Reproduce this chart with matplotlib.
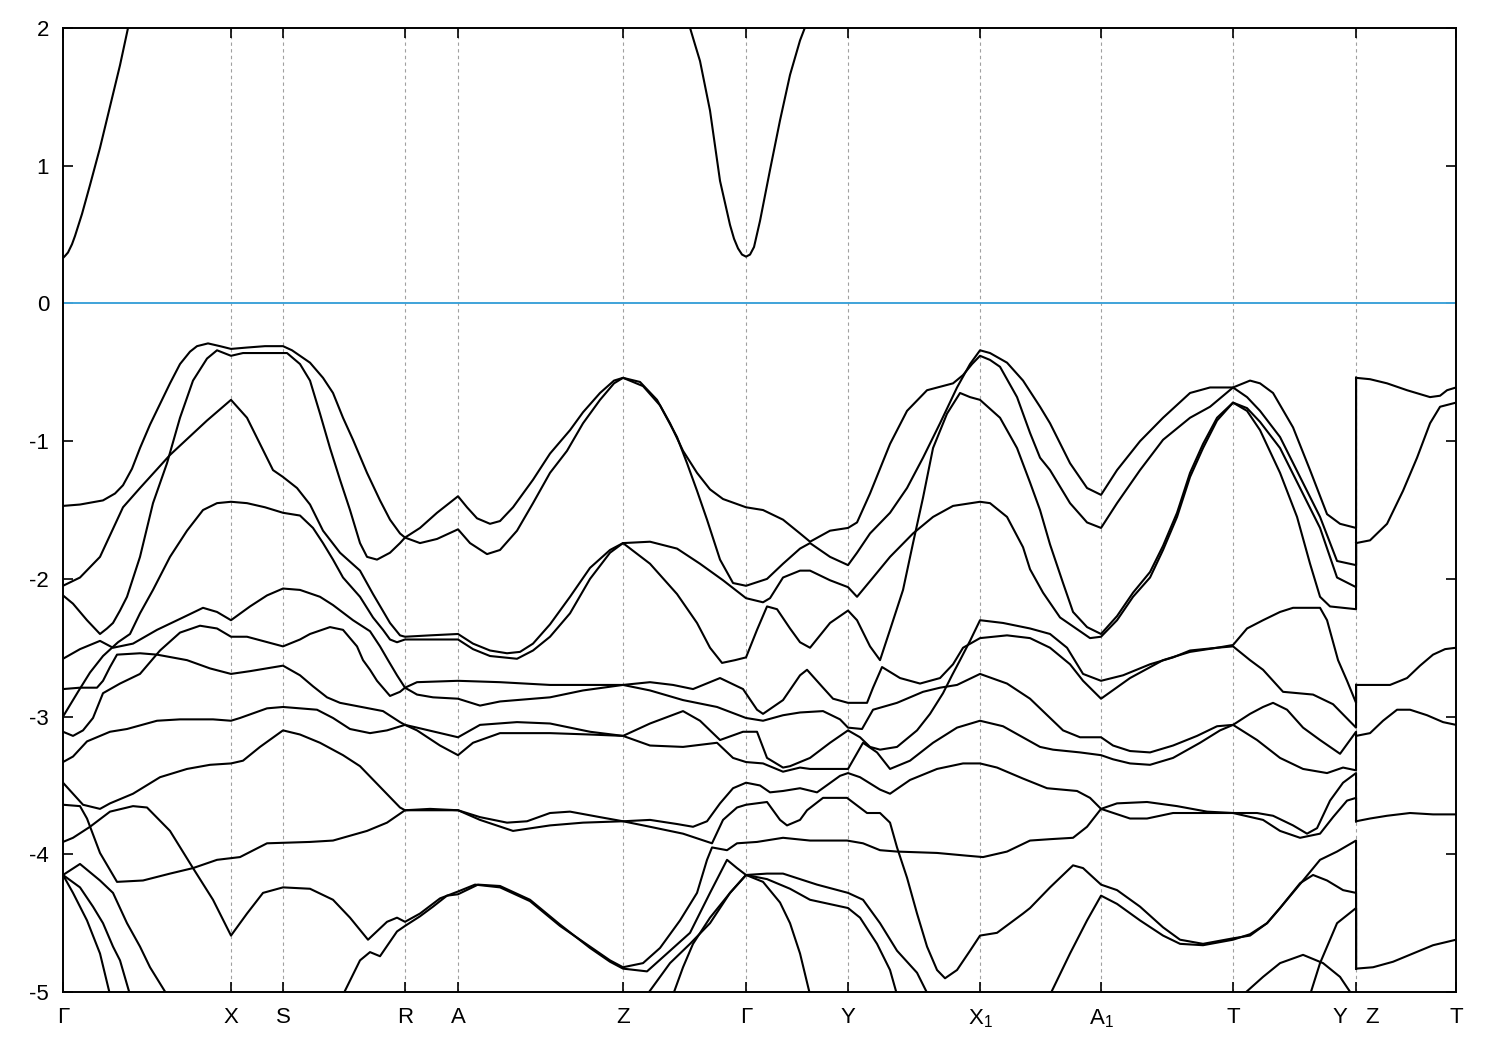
import matplotlib
matplotlib.use("Agg")
import matplotlib.pyplot as plt

plt.rcParams['font.family'] = ['Liberation Sans', 'DejaVu Sans']
plt.rcParams['mathtext.default'] = 'regular'
plt.rcParams['axes.unicode_minus'] = False

# ---- high-symmetry path ----
kpt_pos = [0.0, 1.68, 2.20, 3.42, 3.95, 5.60, 6.83, 7.85, 9.17, 10.38, 11.70, 12.93, 13.93]
kpt_lab = ["Γ", "X", "S", "R", "A", "Z", "Γ", "Y", "X$_1$", "A$_1$", "T", "Y   Z", "T"]

# ---- conduction bands ----
cb1_k = [0, 0.02, 0.05, 0.09, 0.12, 0.19, 0.27, 0.37, 0.47, 0.57, 0.65, 0.69]
cb1_e = [0.33, 0.345, 0.37, 0.43, 0.49, 0.65, 0.86, 1.13, 1.43, 1.73, 2.0, 2.12]
cb2_k = [6.25, 6.32, 6.37, 6.47, 6.57, 6.67, 6.71, 6.75, 6.79, 6.83, 6.87, 6.91, 6.97, 7.07, 7.17, 7.27, 7.37, 7.47]
cb2_e = [2.05, 1.88, 1.76, 1.40, 0.89, 0.57, 0.47, 0.40, 0.355, 0.34, 0.355, 0.41, 0.60, 0.97, 1.33, 1.66, 1.91, 2.1]

# ---- valence bands ----
va_k = [0, 0.17, 0.40, 0.52, 0.60, 0.69, 0.77, 0.87, 0.97, 1.07, 1.17, 1.27, 1.34, 1.45, 1.57, 1.68, 1.84, 2.02, 2.20,
        2.29, 2.37, 2.47, 2.60, 2.70, 2.80, 2.90, 3.04, 3.17, 3.27, 3.37, 3.42, 3.57, 3.74, 3.95, 4.07, 4.24, 4.37, 4.54,
        4.70, 4.87, 5.04, 5.20, 5.37, 5.51, 5.60, 5.77, 5.94, 6.07, 6.20, 6.34, 6.47, 6.60, 6.83, 7.00, 7.20, 7.37, 7.47,
        7.67, 7.85, 7.94, 8.07, 8.27, 8.44, 8.64, 8.90, 9.00, 9.09, 9.17, 9.27, 9.37, 9.54, 9.67, 9.77, 9.87, 10.07,
        10.24, 10.38, 10.54, 10.77, 11.00, 11.27, 11.47, 11.70, 11.84, 11.97, 12.17, 12.37, 12.57, 12.74, 12.93, 12.93]
va_e = [-1.47, -1.46, -1.43, -1.38, -1.32, -1.20, -1.05, -0.88, -0.73, -0.58, -0.44, -0.35, -0.31, -0.29, -0.31, -0.33,
        -0.32, -0.31, -0.31, -0.34, -0.38, -0.43, -0.54, -0.65, -0.83, -0.99, -1.23, -1.43, -1.57, -1.67, -1.70, -1.74,
        -1.71, -1.64, -1.74, -1.82, -1.79, -1.65, -1.45, -1.23, -1.07, -0.87, -0.70, -0.58, -0.54, -0.57, -0.70, -0.87,
        -1.07, -1.23, -1.35, -1.42, -1.48, -1.50, -1.57, -1.67, -1.73, -1.65, -1.63, -1.59, -1.38, -1.02, -0.78, -0.63,
        -0.58, -0.52, -0.44, -0.38, -0.41, -0.46, -0.68, -0.94, -1.12, -1.21, -1.45, -1.59, -1.63, -1.45, -1.21, -0.99,
        -0.83, -0.75, -0.61, -0.68, -0.78, -0.97, -1.26, -1.55, -1.87, -1.90, -0.54]

vb_k = [0, 0.10, 0.24, 0.37, 0.44, 0.50, 0.57, 0.64, 0.77, 0.90, 1.04, 1.17, 1.30, 1.44, 1.54, 1.61, 1.68, 1.80, 2.02,
        2.24, 2.37, 2.47, 2.57, 2.67, 2.77, 2.87, 2.97, 3.04, 3.14, 3.27, 3.37, 3.42, 3.57, 3.74, 3.95, 4.04, 4.14, 4.27,
        4.37, 4.50, 4.70, 4.87, 5.07, 5.20, 5.37, 5.51, 5.60, 5.80, 5.97, 6.14, 6.24, 6.34, 6.44, 6.57, 6.70, 6.83, 7.04,
        7.20, 7.37, 7.47, 7.67, 7.85, 7.94, 8.07, 8.27, 8.44, 8.60, 8.77, 8.94, 9.07, 9.17, 9.27, 9.44, 9.60, 9.77, 9.87,
        10.07, 10.24, 10.38, 10.54, 10.77, 11.00, 11.27, 11.47, 11.70, 11.87, 11.97, 12.10, 12.30, 12.47, 12.64, 12.77,
        12.93, 12.93]
vb_e = [-2.12, -2.18, -2.30, -2.40, -2.36, -2.32, -2.23, -2.13, -1.84, -1.45, -1.16, -0.83, -0.56, -0.40, -0.34, -0.36,
        -0.38, -0.36, -0.36, -0.36, -0.44, -0.56, -0.80, -1.05, -1.28, -1.50, -1.74, -1.84, -1.86, -1.81, -1.74, -1.70,
        -1.63, -1.52, -1.40, -1.48, -1.56, -1.60, -1.58, -1.48, -1.28, -1.09, -0.92, -0.79, -0.65, -0.56, -0.54, -0.60,
        -0.74, -0.97, -1.16, -1.36, -1.57, -1.86, -2.03, -2.05, -2.00, -1.89, -1.78, -1.74, -1.84, -1.90, -1.81, -1.67,
        -1.52, -1.34, -1.12, -0.87, -0.61, -0.44, -0.34, -0.36, -0.43, -0.56, -0.75, -0.87, -1.16, -1.34, -1.39, -1.21,
        -1.00, -0.83, -0.65, -0.61, -0.61, -0.56, -0.58, -0.65, -0.90, -1.21, -1.53, -1.60, -1.63, -0.54]

vd_k = [0, 0.17, 0.37, 0.60, 0.77, 1.07, 1.44, 1.68, 1.84, 1.97, 2.10, 2.20, 2.34, 2.47, 2.60, 2.77, 2.97, 3.10, 3.27,
        3.37, 3.42, 3.67, 3.95, 4.10, 4.27, 4.44, 4.57, 4.70, 4.87, 5.07, 5.27, 5.47, 5.60, 5.87, 6.14, 6.37, 6.60, 6.83,
        7.00, 7.07, 7.20, 7.37, 7.47, 7.67, 7.85, 7.94, 8.10, 8.27, 8.50, 8.70, 8.90, 9.17, 9.27, 9.44, 9.60, 9.67, 9.80,
        9.97, 10.17, 10.27, 10.38, 10.54, 10.70, 10.87, 11.00, 11.14, 11.27, 11.40, 11.54, 11.70, 11.84, 11.97, 12.17,
        12.37, 12.57, 12.74, 12.93, 12.93]
vd_e = [-2.05, -1.99, -1.84, -1.48, -1.34, -1.10, -0.85, -0.70, -0.83, -1.02, -1.21, -1.26, -1.34, -1.46, -1.65, -1.81,
        -1.94, -2.11, -2.32, -2.41, -2.42, -2.41, -2.40, -2.47, -2.52, -2.54, -2.53, -2.47, -2.33, -2.13, -1.92, -1.79,
        -1.74, -1.73, -1.78, -1.89, -2.01, -2.14, -2.17, -2.14, -1.99, -1.94, -1.94, -2.01, -2.06, -2.13, -1.99, -1.84,
        -1.67, -1.55, -1.47, -1.44, -1.45, -1.55, -1.77, -1.93, -2.10, -2.28, -2.38, -2.43, -2.42, -2.30, -2.13, -1.99,
        -1.79, -1.55, -1.26, -1.05, -0.85, -0.72, -0.76, -0.86, -1.05, -1.34, -1.63, -1.99, -2.06, -1.74]

ve_k = [0, 0.15, 0.27, 0.40, 0.55, 0.67, 0.77, 0.90, 1.07, 1.24, 1.40, 1.54, 1.68, 1.84, 2.02, 2.20, 2.37, 2.50, 2.60,
        2.70, 2.80, 2.97, 3.10, 3.20, 3.27, 3.34, 3.42, 3.67, 3.95, 4.10, 4.27, 4.54, 4.70, 4.87, 5.07, 5.27, 5.47, 5.60,
        5.87, 6.14, 6.34, 6.47, 6.59, 6.72, 6.83, 6.94, 7.04, 7.14, 7.27, 7.37, 7.47, 7.67, 7.85, 7.94, 8.07, 8.17, 8.27,
        8.40, 8.50, 8.60, 8.70, 8.84, 8.97, 9.07, 9.17, 9.37, 9.54, 9.67, 9.77, 9.87, 10.00, 10.10, 10.24, 10.38, 10.54,
        10.70, 10.87, 11.00, 11.14, 11.27, 11.40, 11.54, 11.70, 11.84, 11.97, 12.17, 12.34, 12.47, 12.57, 12.67, 12.93,
        12.93]
ve_e = [-3.00, -2.82, -2.68, -2.56, -2.46, -2.40, -2.25, -2.08, -1.84, -1.65, -1.50, -1.45, -1.44, -1.45, -1.48, -1.52,
        -1.54, -1.63, -1.74, -1.86, -1.99, -2.13, -2.28, -2.37, -2.44, -2.46, -2.44, -2.44, -2.44, -2.51, -2.56, -2.58,
        -2.52, -2.42, -2.25, -2.00, -1.81, -1.74, -1.89, -2.11, -2.32, -2.50, -2.61, -2.59, -2.57, -2.37, -2.20, -2.22,
        -2.36, -2.46, -2.50, -2.32, -2.23, -2.30, -2.49, -2.59, -2.37, -2.08, -1.74, -1.41, -1.05, -0.80, -0.65, -0.68,
        -0.70, -0.83, -1.05, -1.30, -1.50, -1.75, -2.03, -2.24, -2.35, -2.40, -2.27, -2.10, -1.95, -1.76, -1.52, -1.23,
        -1.02, -0.83, -0.72, -0.78, -0.92, -1.23, -1.55, -1.89, -2.13, -2.20, -2.22, -1.74]

vf_k = [0, 0.17, 0.37, 0.50, 0.70, 0.94, 1.20, 1.40, 1.54, 1.68, 1.87, 2.04, 2.20, 2.37, 2.57, 2.70, 2.90, 3.07, 3.17,
        3.25, 3.34, 3.42, 3.54, 3.70, 3.95, 4.17, 4.37, 4.87, 5.20, 5.60, 5.87, 6.20, 6.54, 6.83, 7.00, 7.20, 7.37, 7.60,
        7.77, 7.85, 7.99, 8.10, 8.34, 8.60, 8.77, 8.94, 9.17, 9.44, 9.67, 10.00, 10.17, 10.38, 10.50, 10.67, 10.87, 11.10,
        11.34, 11.54, 11.70, 11.87, 12.00, 12.10, 12.24, 12.40, 12.57, 12.77, 12.84, 12.93, 12.93]
vf_e = [-2.58, -2.51, -2.45, -2.50, -2.47, -2.37, -2.28, -2.21, -2.24, -2.30, -2.20, -2.12, -2.07, -2.08, -2.13, -2.19,
        -2.30, -2.38, -2.49, -2.59, -2.70, -2.79, -2.84, -2.86, -2.87, -2.92, -2.89, -2.86, -2.81, -2.77, -2.81, -2.88,
        -2.93, -3.01, -3.03, -2.99, -2.97, -2.96, -3.02, -3.08, -3.09, -2.95, -2.90, -2.82, -2.79, -2.77, -2.69, -2.76,
        -2.87, -3.10, -3.15, -3.15, -3.21, -3.25, -3.26, -3.21, -3.14, -3.07, -3.06, -2.98, -2.93, -2.90, -2.95, -3.08,
        -3.17, -3.27, -3.20, -3.11, -3.14]

vg_k = [0, 0.10, 0.20, 0.30, 0.40, 0.57, 0.77, 0.97, 1.17, 1.37, 1.54, 1.68, 1.84, 2.20, 2.37, 2.47, 2.67, 2.80, 2.94,
        3.00, 3.07, 3.14, 3.27, 3.37, 3.42, 3.54, 3.95, 4.37, 4.87, 5.27, 5.60, 5.87, 6.10, 6.30, 6.57, 6.80, 6.94, 7.00,
        7.20, 7.37, 7.44, 7.60, 7.70, 7.85, 8.04, 8.10, 8.19, 8.37, 8.57, 8.77, 8.90, 9.00, 9.17, 9.44, 9.67, 9.87, 10.07,
        10.20, 10.38, 10.67, 11.00, 11.27, 11.54, 11.70, 11.87, 12.00, 12.20, 12.50, 12.70, 12.93, 12.93]
vg_e = [-3.11, -3.14, -3.10, -3.01, -2.83, -2.76, -2.69, -2.52, -2.39, -2.34, -2.36, -2.42, -2.42, -2.49, -2.44, -2.40,
        -2.35, -2.37, -2.49, -2.59, -2.66, -2.74, -2.85, -2.82, -2.79, -2.75, -2.74, -2.75, -2.77, -2.77, -2.77, -2.75,
        -2.77, -2.80, -2.72, -2.80, -2.95, -2.98, -2.88, -2.70, -2.66, -2.79, -2.87, -2.90, -2.90, -2.79, -2.64, -2.72,
        -2.76, -2.72, -2.62, -2.50, -2.43, -2.41, -2.43, -2.50, -2.62, -2.74, -2.87, -2.72, -2.59, -2.53, -2.50, -2.49,
        -2.59, -2.66, -2.82, -2.84, -2.91, -3.08, -2.77]

vi_k = [0, 0.10, 0.24, 0.47, 0.64, 0.94, 1.17, 1.50, 1.68, 1.77, 2.04, 2.20, 2.37, 2.54, 2.70, 2.87, 3.07, 3.24, 3.42,
        3.54, 3.95, 4.17, 4.54, 4.87, 5.27, 5.60, 5.87, 6.20, 6.37, 6.57, 6.80, 6.94, 7.04, 7.20, 7.27, 7.47, 7.67, 7.85,
        7.97, 8.07, 8.17, 8.34, 8.54, 8.67, 8.80, 8.89, 8.97, 9.07, 9.17, 9.40, 9.67, 9.87, 10.04, 10.20, 10.38, 10.60,
        10.87, 11.10, 11.27, 11.54, 11.70, 11.84, 12.00, 12.17, 12.30, 12.57, 12.64, 12.75, 12.84, 12.93, 12.93]
vi_e = [-3.33, -3.29, -3.18, -3.11, -3.09, -3.03, -3.02, -3.02, -3.03, -3.01, -2.94, -2.93, -2.94, -2.95, -3.01, -3.09,
        -3.12, -3.10, -3.06, -3.08, -3.15, -3.06, -3.04, -3.05, -3.11, -3.14, -3.05, -2.96, -3.03, -3.17, -3.11, -3.11,
        -3.30, -3.37, -3.36, -3.30, -3.19, -3.10, -3.15, -3.22, -3.24, -3.22, -3.10, -2.98, -2.83, -2.70, -2.59, -2.45,
        -2.30, -2.32, -2.36, -2.40, -2.50, -2.69, -2.74, -2.70, -2.62, -2.57, -2.52, -2.50, -2.48, -2.36, -2.30, -2.24,
        -2.21, -2.21, -2.30, -2.59, -2.74, -2.90, -2.77]

vh_k = [0, 0.17, 0.34, 0.40, 0.47, 0.54, 0.77, 0.94, 1.24, 1.47, 1.68, 1.87, 2.20, 2.37, 2.50, 2.64, 2.77, 3.20, 3.37,
        3.42, 3.54, 3.77, 3.95, 4.10, 4.37, 4.87, 5.27, 5.60, 5.87, 6.20, 6.54, 6.70, 6.83, 7.00, 7.20, 7.37, 7.47, 7.85,
        8.00, 8.14, 8.27, 8.47, 8.70, 8.94, 9.17, 9.40, 9.77, 9.90, 10.17, 10.38, 10.50, 10.67, 10.87, 11.10, 11.37,
        11.57, 11.70, 11.94, 12.17, 12.40, 12.64, 12.80, 12.93, 12.93]
vh_e = [-2.80, -2.79, -2.79, -2.74, -2.64, -2.55, -2.54, -2.55, -2.59, -2.65, -2.69, -2.67, -2.63, -2.70, -2.78, -2.86,
        -2.90, -2.96, -3.04, -3.06, -3.10, -3.21, -3.28, -3.19, -3.12, -3.12, -3.13, -3.14, -3.21, -3.22, -3.19, -3.30,
        -3.33, -3.34, -3.40, -3.37, -3.38, -3.38, -3.19, -3.26, -3.38, -3.32, -3.19, -3.08, -3.03, -3.07, -3.22, -3.24,
        -3.26, -3.28, -3.31, -3.34, -3.35, -3.30, -3.19, -3.10, -3.06, -3.17, -3.30, -3.38, -3.41, -3.37, -3.39, -3.14]

vj_k = [0, 0.10, 0.20, 0.37, 0.47, 0.70, 0.97, 1.24, 1.47, 1.68, 1.80, 1.97, 2.20, 2.37, 2.57, 2.80, 2.97, 3.17, 3.37,
        3.42, 3.67, 3.95, 4.17, 4.44, 4.64, 4.87, 5.07, 5.37, 5.60, 5.87, 6.14, 6.30, 6.44, 6.57, 6.70, 6.83, 6.97, 7.07,
        7.20, 7.37, 7.54, 7.77, 7.85, 7.97, 8.17, 8.27, 8.47, 8.74, 9.00, 9.17, 9.34, 9.60, 9.84, 10.14, 10.27, 10.38,
        10.67, 10.84, 11.10, 11.44, 11.70, 12.00, 12.17, 12.37, 12.57, 12.70, 12.84, 12.93, 12.93]
vj_e = [-3.48, -3.56, -3.64, -3.67, -3.63, -3.56, -3.44, -3.38, -3.35, -3.34, -3.32, -3.22, -3.10, -3.13, -3.19, -3.28,
        -3.36, -3.51, -3.66, -3.68, -3.68, -3.68, -3.73, -3.77, -3.76, -3.70, -3.69, -3.73, -3.76, -3.75, -3.78, -3.80,
        -3.76, -3.63, -3.52, -3.48, -3.50, -3.55, -3.54, -3.52, -3.55, -3.43, -3.41, -3.44, -3.53, -3.56, -3.46, -3.38,
        -3.34, -3.34, -3.37, -3.45, -3.52, -3.54, -3.59, -3.67, -3.74, -3.74, -3.70, -3.70, -3.70, -3.75, -3.83, -3.88,
        -3.85, -3.73, -3.61, -3.59, -3.76]

vk_k = [0, 0.17, 0.24, 0.37, 0.54, 0.80, 1.07, 1.30, 1.54, 1.77, 2.04, 2.47, 2.70, 3.04, 3.24, 3.42, 3.67, 3.95, 4.17,
        4.50, 4.87, 5.20, 5.60, 5.87, 6.20, 6.49, 6.60, 6.74, 6.83, 7.04, 7.17, 7.24, 7.37, 7.44, 7.60, 7.84, 8.04, 8.17,
        8.27, 8.34, 8.44, 8.54, 8.64, 8.74, 8.82, 8.94, 9.07, 9.17, 9.34, 9.60, 9.67, 9.87, 10.10, 10.20, 10.38, 10.54,
        10.77, 11.00, 11.17, 11.40, 11.70, 11.87, 12.04, 12.17, 12.40, 12.57, 12.74, 12.93, 12.93]
vk_e = [-3.64, -3.65, -3.74, -3.99, -4.20, -4.19, -4.14, -4.10, -4.04, -4.02, -3.92, -3.91, -3.90, -3.83, -3.77, -3.68,
        -3.67, -3.68, -3.75, -3.83, -3.79, -3.77, -3.76, -3.80, -3.85, -3.92, -3.75, -3.66, -3.64, -3.62, -3.75, -3.79,
        -3.75, -3.68, -3.59, -3.59, -3.70, -3.70, -3.77, -3.95, -4.17, -4.43, -4.67, -4.84, -4.90, -4.84, -4.70, -4.59,
        -4.57, -4.43, -4.39, -4.24, -4.08, -4.10, -4.22, -4.26, -4.38, -4.53, -4.62, -4.65, -4.61, -4.59, -4.50, -4.39,
        -4.19, -4.04, -3.98, -3.90, -4.83]

vl_k = [0, 0.10, 0.27, 0.47, 0.70, 0.84, 1.07, 1.30, 1.50, 1.68, 1.84, 2.00, 2.20, 2.47, 2.70, 2.87, 3.05, 3.24, 3.34,
        3.42, 3.57, 3.77, 3.95, 4.12, 4.37, 4.67, 4.97, 5.27, 5.47, 5.60, 5.80, 5.97, 6.17, 6.34, 6.44, 6.49, 6.64, 6.74,
        6.94, 7.20, 7.47, 7.84, 8.00, 8.17, 8.34, 8.74, 9.04, 9.20, 9.44, 9.67, 9.87, 10.10, 10.24, 10.38, 10.54, 10.84,
        11.14, 11.44, 11.70, 11.94, 12.10, 12.30, 12.44, 12.54, 12.67, 12.80, 12.93, 12.93]
vl_e = [-3.91, -3.88, -3.80, -3.69, -3.65, -3.66, -3.83, -4.10, -4.33, -4.59, -4.43, -4.28, -4.24, -4.25, -4.33, -4.46,
        -4.62, -4.49, -4.46, -4.49, -4.43, -4.32, -4.27, -4.22, -4.24, -4.34, -4.52, -4.67, -4.77, -4.82, -4.79, -4.68,
        -4.48, -4.28, -4.04, -3.95, -3.97, -3.92, -3.91, -3.88, -3.90, -3.90, -3.92, -3.97, -3.98, -3.99, -4.01, -4.02,
        -3.98, -3.90, -3.89, -3.88, -3.80, -3.67, -3.63, -3.62, -3.65, -3.69, -3.70, -3.70, -3.72, -3.79, -3.85, -3.81,
        -3.61, -3.48, -3.41, -3.76]

vw_k = [2.80, 2.97, 3.07, 3.17, 3.34, 3.42, 3.57, 3.70, 3.84, 3.95, 4.15, 4.37, 4.67, 4.97, 5.27, 5.47, 5.60, 5.84, 6.04,
        6.27, 6.47, 6.64, 6.74, 6.83, 7.04, 7.20, 7.37, 7.54, 7.85, 8.00, 8.17, 8.34, 8.54, 8.65]
vw_e = [-5.02, -4.77, -4.71, -4.74, -4.56, -4.52, -4.45, -4.38, -4.30, -4.29, -4.22, -4.23, -4.33, -4.51, -4.68, -4.78,
        -4.83, -4.85, -4.72, -4.57, -4.28, -4.04, -4.10, -4.15, -4.14, -4.14, -4.18, -4.22, -4.28, -4.33, -4.50, -4.70,
        -4.86, -5.02]

vm_k = [5.84, 6.07, 6.27, 6.47, 6.67, 6.83, 7.04, 7.27, 7.47, 7.85, 7.97, 8.14, 8.27, 8.34]
vm_e = [-5.02, -4.79, -4.65, -4.50, -4.28, -4.15, -4.18, -4.25, -4.33, -4.39, -4.46, -4.65, -4.84, -5.02]

vn_k = [6.10, 6.20, 6.30, 6.47, 6.67, 6.83, 7.00, 7.17, 7.27, 7.37, 7.47]
vn_e = [-5.02, -4.82, -4.65, -4.46, -4.28, -4.15, -4.20, -4.35, -4.50, -4.72, -5.02]

vo_k = [9.87, 10.07, 10.24, 10.38, 10.54, 10.77, 11.00, 11.17, 11.40, 11.70, 11.87, 12.04, 12.17, 12.37, 12.50, 12.64,
        12.80, 12.93, 12.93]
vo_e = [-5.02, -4.72, -4.48, -4.30, -4.36, -4.48, -4.59, -4.65, -4.66, -4.62, -4.58, -4.50, -4.39, -4.21, -4.15, -4.19,
        -4.26, -4.28, -4.83]

vp_k = [0, 0.17, 0.37, 0.50, 0.64, 0.77, 0.87, 1.04]
vp_e = [-4.15, -4.07, -4.19, -4.28, -4.50, -4.67, -4.82, -5.02]
vq_k = [0, 0.17, 0.30, 0.40, 0.50, 0.57, 0.67]
vq_e = [-4.15, -4.24, -4.38, -4.50, -4.67, -4.77, -5.02]
vr_k = [0, 0.10, 0.24, 0.37, 0.47]
vr_e = [-4.15, -4.28, -4.48, -4.72, -5.02]

vs_k = [12.47, 12.57, 12.74, 12.93, 12.93]
vs_e = [-5.02, -4.79, -4.50, -4.39, -4.83]
vt_k = [11.80, 12.00, 12.17, 12.40, 12.60, 12.77, 12.89]
vt_e = [-5.02, -4.89, -4.79, -4.73, -4.79, -4.89, -5.02]

# ---- Z-T segment ----
zt1_k = [12.93, 13.07, 13.24, 13.44, 13.67, 13.77, 13.84, 13.93]
zt1_e = [-0.54, -0.55, -0.58, -0.63, -0.68, -0.67, -0.63, -0.61]
zt2_k = [12.93, 13.07, 13.24, 13.40, 13.54, 13.67, 13.77, 13.93]
zt2_e = [-1.74, -1.72, -1.60, -1.36, -1.12, -0.87, -0.75, -0.72]
zt3_k = [12.93, 13.10, 13.27, 13.44, 13.57, 13.70, 13.82, 13.93]
zt3_e = [-2.77, -2.77, -2.77, -2.72, -2.63, -2.55, -2.51, -2.50]
zt4_k = [12.93, 13.07, 13.20, 13.34, 13.47, 13.64, 13.80, 13.93]
zt4_e = [-3.14, -3.12, -3.03, -2.95, -2.95, -2.99, -3.04, -3.06]
zt5_k = [12.93, 13.07, 13.24, 13.47, 13.70, 13.93]
zt5_e = [-3.76, -3.74, -3.72, -3.70, -3.71, -3.71]
zt6_k = [12.93, 13.10, 13.30, 13.50, 13.70, 13.93]
zt6_e = [-4.83, -4.82, -4.78, -4.72, -4.66, -4.62]

bands = [
    (cb1_k, cb1_e), (cb2_k, cb2_e),
    (va_k, va_e), (vb_k, vb_e), (vd_k, vd_e), (ve_k, ve_e), (vf_k, vf_e), (vg_k, vg_e),
    (vi_k, vi_e), (vh_k, vh_e), (vj_k, vj_e), (vk_k, vk_e), (vl_k, vl_e), (vw_k, vw_e),
    (vm_k, vm_e), (vn_k, vn_e), (vo_k, vo_e), (vp_k, vp_e), (vq_k, vq_e), (vr_k, vr_e),
    (vs_k, vs_e), (vt_k, vt_e),
    (zt1_k, zt1_e), (zt2_k, zt2_e), (zt3_k, zt3_e), (zt4_k, zt4_e), (zt5_k, zt5_e), (zt6_k, zt6_e),
]

fig = plt.figure(figsize=(15, 10.5), dpi=100)
ax = fig.add_axes([0.042, 0.0552, 0.9287, 0.9181])

for kp in kpt_pos[1:-1]:
    ax.axvline(kp, color='#a0a0a0', lw=0.8, ls=(0, (3, 3)), zorder=1)
ax.axhline(0.0, color='#3fa3d9', lw=1.4, zorder=2)

for k, e in bands:
    ax.plot(k, e, color='black', lw=1.5, solid_joinstyle='round', zorder=3)

ax.set_xlim(kpt_pos[0], kpt_pos[-1])
ax.set_ylim(-5, 2)
ax.set_xticks(kpt_pos)
ax.set_xticklabels(kpt_lab)
ax.set_yticks(range(-5, 3))
ax.tick_params(axis='both', direction='in', length=7, width=1.2, labelsize=16,
               top=True, right=True, colors='black')
ax.tick_params(axis='x', pad=11)
ax.tick_params(axis='y', pad=10)
for sp in ax.spines.values():
    sp.set_linewidth(1.4)

fig.savefig("out.png", dpi=100)
